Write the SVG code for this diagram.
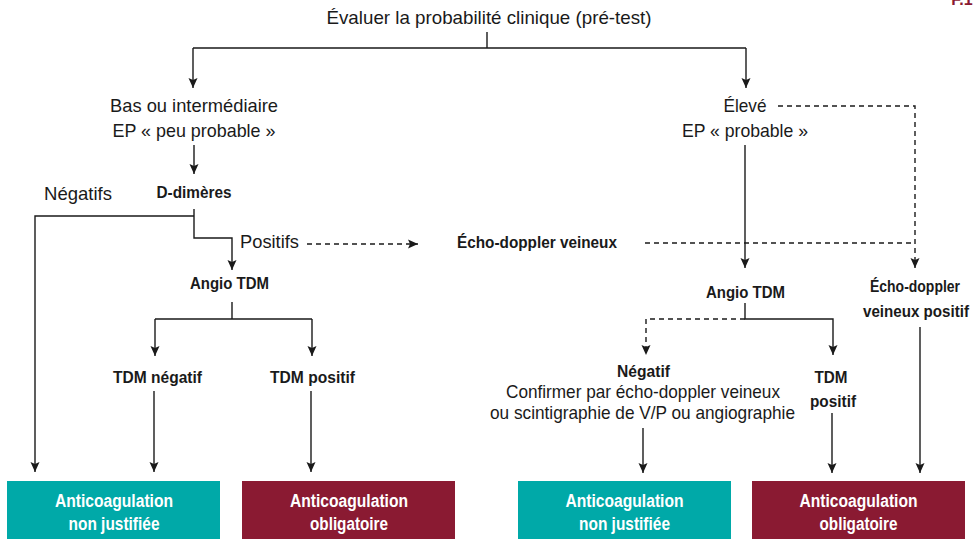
<svg xmlns="http://www.w3.org/2000/svg" width="977" height="539" viewBox="0 0 977 539">
  <style>
    text { font-family: "Liberation Sans", Arial, sans-serif; fill: #1a1a1a; text-anchor: middle; }
    .r { font-size: 18.5px; }
    .b { font-size: 17px; font-weight: bold; }
    .bs { font-size: 16px; font-weight: bold; }
    .w { font-size: 17.5px; font-weight: bold; fill: #ffffff; }
    .ln { fill: none; stroke: #1a1a1a; stroke-width: 1.4; }
    .ds { stroke-dasharray: 5 4; }
    .arr { marker-end: url(#ah); }
    .teal { fill: #00a9a8; }
    .wine { fill: #8a1a32; }
  </style>
  <defs>
    <marker id="ah" viewBox="0 0 10 10" refX="10" refY="5" markerWidth="10" markerHeight="10" markerUnits="userSpaceOnUse" orient="auto">
      <path d="M0,0.5 L10,5 L0,9.5 L2,5 z" fill="#1a1a1a"/>
    </marker>
  </defs>

  <rect width="977" height="539" fill="#ffffff"/>

  <!-- page tag, cut by the top edge -->
  <text x="962" y="5" style="font-size:16px;font-weight:bold;fill:#8a1a32">F.1</text>

  <!-- connectors -->
  <g id="connectors">
    <path class="ln" d="M487,32 V48 M193,48 H746"/>
    <path class="ln arr" d="M193,48 V88"/>
    <path class="ln arr" d="M746,48 V88"/>
    <path class="ln arr" d="M194,145 V174"/>
    <path class="ln arr" d="M194,216 H35 V472"/>
    <path class="ln arr" d="M194,209 V238 H232 V270"/>
    <path class="ln ds arr" d="M307,244 H418"/>
    <path class="ln" d="M232,302 V319 M155,319 H312"/>
    <path class="ln arr" d="M155,319 V356"/>
    <path class="ln arr" d="M312,319 V356"/>
    <path class="ln arr" d="M154,391 V472"/>
    <path class="ln arr" d="M311,391 V472"/>
    <path class="ln arr" d="M745,145 V268"/>
    <path class="ln ds" d="M645,243 H915"/>
    <path class="ln ds arr" d="M778,106 H915 V268"/>
    <path class="ln arr" d="M745,303 V319 H833 V355"/>
    <path class="ln ds arr" d="M745,319 H646 V355"/>
    <path class="ln arr" d="M643,428 V473"/>
    <path class="ln arr" d="M832,413 V473"/>
    <path class="ln arr" d="M920,327 V473"/>
  </g>

  <g id="start">
    <text class="r" x="489" y="24" textLength="325" lengthAdjust="spacingAndGlyphs">Évaluer la probabilité clinique (pré-test)</text>
  </g>

  <g id="low">
    <text class="r" x="194" y="112" textLength="168" lengthAdjust="spacingAndGlyphs">Bas ou intermédiaire</text>
    <text class="r" x="194" y="137" textLength="163" lengthAdjust="spacingAndGlyphs">EP « peu probable »</text>
  </g>

  <g id="high">
    <text class="r" x="745" y="112" textLength="43" lengthAdjust="spacingAndGlyphs">Élevé</text>
    <text class="r" x="745" y="137" textLength="126" lengthAdjust="spacingAndGlyphs">EP « probable »</text>
  </g>

  <g id="ddimers">
    <text class="b" x="194" y="198" textLength="75" lengthAdjust="spacingAndGlyphs">D-dimères</text>
  </g>

  <g id="neg-label">
    <text class="r" x="78" y="200" textLength="68" lengthAdjust="spacingAndGlyphs">Négatifs</text>
  </g>

  <g id="pos-label">
    <text class="r" x="269.5" y="248" textLength="59" lengthAdjust="spacingAndGlyphs">Positifs</text>
  </g>

  <g id="echo">
    <text class="b" x="537" y="248" textLength="160" lengthAdjust="spacingAndGlyphs">Écho-doppler veineux</text>
  </g>

  <g id="angio-left">
    <text class="b" x="229.5" y="289" textLength="79" lengthAdjust="spacingAndGlyphs">Angio TDM</text>
  </g>

  <g id="tdm-neg">
    <text class="b" x="157.5" y="383" textLength="89" lengthAdjust="spacingAndGlyphs">TDM négatif</text>
  </g>

  <g id="tdm-pos">
    <text class="b" x="312.5" y="383" textLength="85" lengthAdjust="spacingAndGlyphs">TDM positif</text>
  </g>

  <g id="angio-right">
    <text class="b" x="745.5" y="298" textLength="79" lengthAdjust="spacingAndGlyphs">Angio TDM</text>
  </g>

  <g id="echo-pos">
    <text class="bs" x="915" y="292" textLength="90" lengthAdjust="spacingAndGlyphs">Écho-doppler</text>
    <text class="bs" x="916" y="317" textLength="106" lengthAdjust="spacingAndGlyphs">veineux positif</text>
  </g>

  <g id="neg-confirm">
    <text class="b" x="643.5" y="377" textLength="53" lengthAdjust="spacingAndGlyphs">Négatif</text>
    <text class="r" x="643" y="398" textLength="274" lengthAdjust="spacingAndGlyphs">Confirmer par écho-doppler veineux</text>
    <text class="r" x="642.5" y="419" textLength="305" lengthAdjust="spacingAndGlyphs">ou scintigraphie de V/P ou angiographie</text>
  </g>

  <g id="tdm-pos-right">
    <text class="b" x="831" y="383" textLength="33" lengthAdjust="spacingAndGlyphs">TDM</text>
    <text class="b" x="833" y="407" textLength="46" lengthAdjust="spacingAndGlyphs">positif</text>
  </g>

  <g id="result-1">
    <rect class="teal" x="7" y="481" width="213" height="60"/>
    <text class="w" x="114" y="507" textLength="118" lengthAdjust="spacingAndGlyphs">Anticoagulation</text>
    <text class="w" x="114" y="530" textLength="91" lengthAdjust="spacingAndGlyphs">non justifiée</text>
  </g>

  <g id="result-2">
    <rect class="wine" x="242" y="481" width="213" height="60"/>
    <text class="w" x="349" y="507" textLength="118" lengthAdjust="spacingAndGlyphs">Anticoagulation</text>
    <text class="w" x="349" y="530" textLength="78" lengthAdjust="spacingAndGlyphs">obligatoire</text>
  </g>

  <g id="result-3">
    <rect class="teal" x="518" y="481" width="213" height="60"/>
    <text class="w" x="624.5" y="507" textLength="118" lengthAdjust="spacingAndGlyphs">Anticoagulation</text>
    <text class="w" x="624.5" y="530" textLength="91" lengthAdjust="spacingAndGlyphs">non justifiée</text>
  </g>

  <g id="result-4">
    <rect class="wine" x="752" y="481" width="213" height="60"/>
    <text class="w" x="858.5" y="507" textLength="118" lengthAdjust="spacingAndGlyphs">Anticoagulation</text>
    <text class="w" x="858.5" y="530" textLength="78" lengthAdjust="spacingAndGlyphs">obligatoire</text>
  </g>
</svg>
